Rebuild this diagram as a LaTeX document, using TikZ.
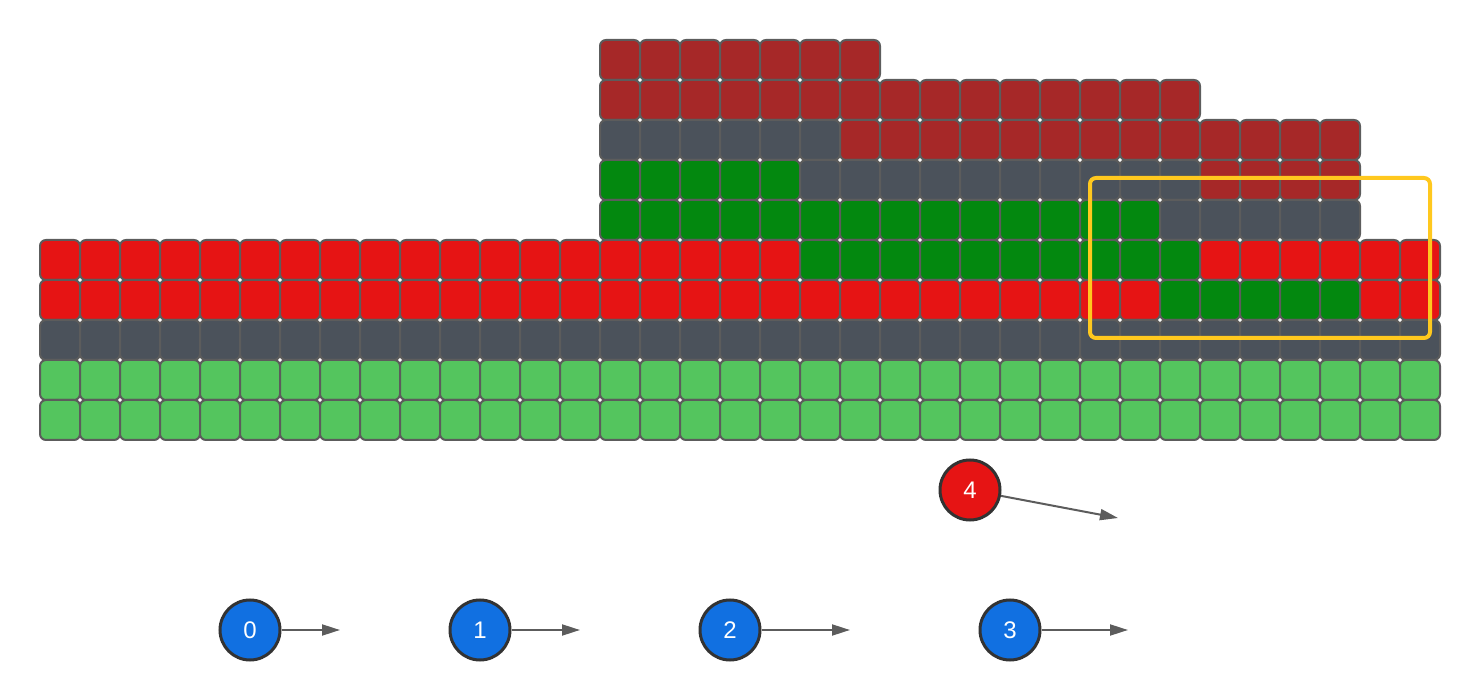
\documentclass[tikz,border=0pt]{standalone}
\usepackage{fontspec}
\setmainfont{Liberation Sans}
\usetikzlibrary{arrows.meta}

\definecolor{darkred}{HTML}{A62828}
\definecolor{slate}{HTML}{4B525B}
\definecolor{deepgreen}{HTML}{03880F}
\definecolor{brightred}{HTML}{E61414}
\definecolor{lightgreen}{HTML}{54C55E}
\definecolor{ballblue}{HTML}{1170E1}
\definecolor{cellline}{HTML}{5C5C5C}
\definecolor{ballline}{HTML}{333333}
\definecolor{frameyellow}{HTML}{FFC81E}

\tikzset{
  cell/.style={draw=cellline, line width=1pt, rounded corners=3pt, minimum size=20pt, inner sep=0pt},
  ball/.style={circle, draw=ballline, line width=1.5pt, minimum size=30pt, inner sep=0pt, text=white, font=\fontsize{12}{14}\selectfont},
  conn/.style={draw=cellline, line width=1pt, -{Triangle[length=9pt,width=5.5pt]}},
  frame/.style={draw=frameyellow, line width=2pt, rounded corners=3pt}
}
% one row of cells: row, first column, last column, colour
\newcommand{\CellRow}[4]{\foreach \c in {#2,...,#3}{\node[cell, fill=#4] (c-#1-\c) at ({60+40*\c},{60+40*#1}) {};}}
\newcommand{\BallBlue}[3]{\node[ball, fill=ballblue] (#1) at (#2) {#3};}

\begin{document}
\begin{tikzpicture}[x=0.5pt, y=-0.5pt]
\useasboundingbox (0,0) rectangle (1480,700);

	\CellRow{0}{14}{20}{darkred}
	\CellRow{1}{14}{28}{darkred}
	\CellRow{2}{14}{19}{slate}
	\CellRow{2}{20}{32}{darkred}
	\CellRow{3}{14}{18}{deepgreen}
	\CellRow{3}{19}{28}{slate}
	\CellRow{3}{29}{32}{darkred}
	\CellRow{4}{14}{27}{deepgreen}
	\CellRow{4}{28}{32}{slate}
	\CellRow{5}{0}{18}{brightred}
	\CellRow{5}{19}{28}{deepgreen}
	\CellRow{5}{29}{34}{brightred}
	\CellRow{6}{0}{27}{brightred}
	\CellRow{6}{28}{32}{deepgreen}
	\CellRow{6}{33}{34}{brightred}
	\CellRow{7}{0}{34}{slate}
	\CellRow{8}{0}{34}{lightgreen}
	\CellRow{9}{0}{34}{lightgreen}

	\draw[frame] (1090,178) rectangle (1430,338);

	\BallBlue{n0}{250,630}{0}
	\BallBlue{n1}{480,630}{1}
	\BallBlue{n2}{730,630}{2}
	\BallBlue{n3}{1010,630}{3}
	\node[ball, fill=brightred] (n4) at (970,490) {4};

	\coordinate (e0) at (340,630);
	\coordinate (e1) at (580,630);
	\coordinate (e2) at (850,630);
	\coordinate (e3) at (1128,630);
	\coordinate (e4) at (1118,518);

	\draw[conn] (n0) -- (e0);
	\draw[conn] (n1) -- (e1);
	\draw[conn] (n2) -- (e2);
	\draw[conn] (n3) -- (e3);
	\draw[conn] (n4) -- (e4);

\end{tikzpicture}
\end{document}
